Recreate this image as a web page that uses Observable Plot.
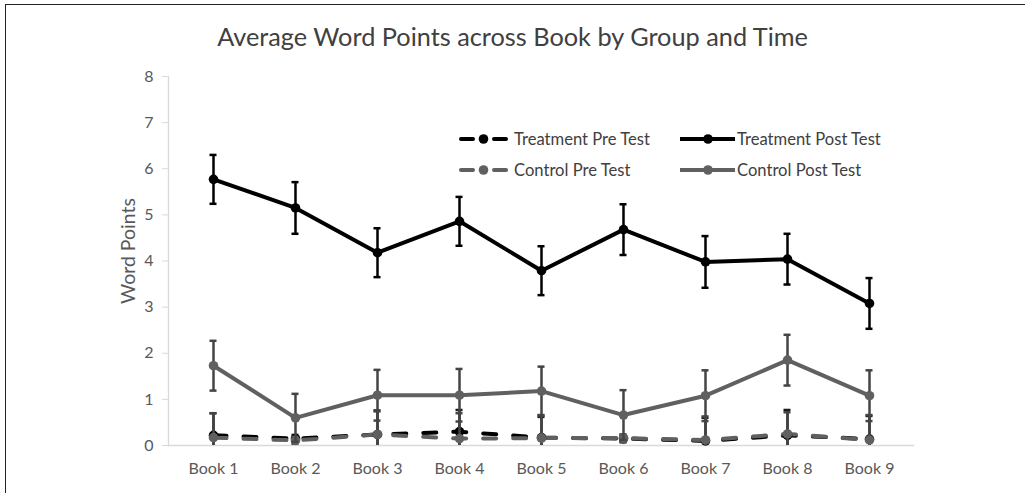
<!DOCTYPE html>
<html><head><meta charset="utf-8">
<script src="https://cdn.jsdelivr.net/npm/d3@7"></script>
<script src="https://cdn.jsdelivr.net/npm/@observablehq/plot@0.6"></script>
<style>
body{margin:0;background:#fff;}
#wrap{position:relative;width:1025px;height:493px;overflow:hidden;font-family:Lato,"Open Sans",sans-serif;background:#fff;}
#border{position:absolute;left:5px;top:4px;width:1100px;height:600px;border-left:1.5px solid #222;border-top:1.5px solid #222;pointer-events:none;}
#title{position:absolute;left:0;width:1025px;top:21px;text-align:center;font-size:25.3px;color:#404040;}
#legend{position:absolute;left:0;top:0;width:1025px;height:493px;pointer-events:none;font-size:16.6px;color:#404040;}
.li{position:absolute;display:flex;align-items:center;height:20px;}
.li svg{margin-right:6px;}
g[aria-label="y-axis tick"]{stroke:#d9d9d9;}
</style></head>
<body>
<div id="wrap">
<div id="chart"></div>
<div id="title">Average Word Points across Book by Group and Time</div>
<div id="legend"></div>
<div id="border"></div>
</div>
<script>
const books = ["Book 1","Book 2","Book 3","Book 4","Book 5","Book 6","Book 7","Book 8","Book 9"];
const seriesNames = ["Treatment Pre Test","Treatment Post Test","Control Pre Test","Control Post Test"];
const treatPre     = [0.22,0.15,0.24,0.30,0.17,0.15,0.10,0.22,0.14];
const treatPreErr  = [0.48,0.08,0.52,0.47,0.45,0.08,0.50,0.55,0.50];
const treatPost    = [5.77,5.15,4.18,4.86,3.79,4.68,3.98,4.04,3.08];
const treatPostErr = [0.53,0.56,0.53,0.53,0.53,0.55,0.56,0.55,0.55];
const ctrlPre      = [0.17,0.11,0.24,0.15,0.16,0.16,0.12,0.25,0.12];
const ctrlPreErr   = [0.53,0.08,0.50,0.55,0.50,0.08,0.51,0.47,0.54];
const ctrlPost     = [1.73,0.60,1.09,1.09,1.18,0.66,1.08,1.85,1.08];
const ctrlPostErr  = [0.54,0.52,0.55,0.57,0.53,0.54,0.55,0.55,0.55];

const values = [treatPre, treatPost, ctrlPre, ctrlPost];
const errs = [treatPreErr, treatPostErr, ctrlPreErr, ctrlPostErr];
const colors = ["#000000","#000000","#606060","#606060"];
const barColors = ["#1a1a1a","#000000","#444444","#444444"];
const dashes = ["13,17",null,"13,17",null];

const data = seriesNames.map((s,i)=>books.map((b,j)=>({series:s, book:b, value:values[i][j], lo:values[i][j]-errs[i][j], hi:values[i][j]+errs[i][j]})));

const marks = [
  Plot.frame({anchor:"left", stroke:"#d9d9d9", strokeWidth:1.3}),
  Plot.frame({anchor:"bottom", stroke:"#d9d9d9", strokeWidth:1.3}),
  Plot.axisY({ticks:d3.range(0,9), tickSize:6, tickPadding:9, fontSize:16, fill:"#595959", label:null, tickFormat:d=>d}),
  Plot.axisX({tickSize:0, tickPadding:17, fontSize:16, fill:"#595959", label:null}),
  Plot.text(["Word Points"], {frameAnchor:"left", textAnchor:"middle", rotate:-90, dx:-40, dy:-10, fontSize:19.5, fill:"#595959", text:d=>d})
];
data.forEach((rows,i)=>{
  marks.push(Plot.line(rows,{x:"book", y:"value", stroke:colors[i], strokeWidth:4, strokeDasharray:dashes[i]||undefined, strokeLinecap:dashes[i]?"round":"butt"}));
});
data.forEach((rows,i)=>{
  marks.push(Plot.ruleX(rows,{x:"book", y1:"lo", y2:"hi", stroke:barColors[i], strokeWidth:2.5, clip:true}));
  marks.push(Plot.tickY(rows,{x:"book", y:"hi", stroke:barColors[i], strokeWidth:2.5, insetLeft:37.5, insetRight:37.5, clip:true}));
  marks.push(Plot.tickY(rows,{x:"book", y:"lo", stroke:barColors[i], strokeWidth:2.5, insetLeft:37.5, insetRight:37.5, clip:true}));
  marks.push(Plot.dot(rows,{x:"book", y:"value", r:4.8, fill:colors[i], stroke:"none"}));
});

const chart = Plot.plot({
  width:1025, height:493,
  marginLeft:168, marginRight:112, marginTop:76, marginBottom:48,
  style:{fontFamily:"Lato, 'Open Sans', sans-serif", background:"#fff"},
  x:{type:"band", domain:books, padding:0},
  y:{domain:[0,8]},
  marks
});
document.getElementById("chart").appendChild(chart);

// legend
const legendPos = [[459,129],[680,129],[459,160],[680,160]];
const leg = document.getElementById("legend");
seriesNames.forEach((s,i)=>{
  const d = document.createElement("div");
  d.className="li";
  d.style.left = legendPos[i][0]+"px";
  d.style.top = legendPos[i][1]+"px";
  const w = dashes[i] ? 49 : 55;
  let inner;
  if (dashes[i]) {
    inner = `<line x1="2" y1="10" x2="14" y2="10" stroke="${colors[i]}" stroke-width="4" stroke-linecap="round"/><line x1="35" y1="10" x2="47" y2="10" stroke="${colors[i]}" stroke-width="4" stroke-linecap="round"/><circle cx="24.5" cy="10" r="4.8" fill="${colors[i]}"/>`;
  } else {
    inner = `<line x1="0" y1="10" x2="55" y2="10" stroke="${colors[i]}" stroke-width="4"/><circle cx="28" cy="10" r="4.8" fill="${colors[i]}"/>`;
  }
  d.innerHTML = `<svg width="${w}" height="20">${inner}</svg><span>${s}</span>`;
  if (!dashes[i]) d.querySelector("svg").style.marginRight = "2px";
  leg.appendChild(d);
});
</script>
</body></html>
